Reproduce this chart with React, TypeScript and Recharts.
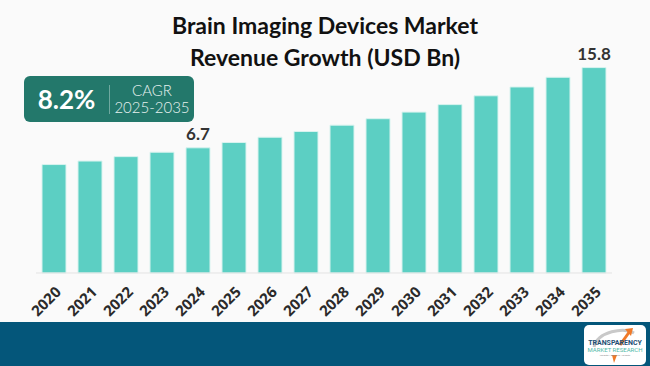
import { BarChart, Bar, XAxis, YAxis, LabelList } from "recharts";

const years = ["2020", "2021", "2022", "2023", "2024", "2025", "2026", "2027", "2028", "2029", "2030", "2031", "2032", "2033", "2034", "2035"];
const revenue = [4.8, 5.2, 5.7, 6.2, 6.7, 7.3, 7.9, 8.55, 9.27, 10.0, 10.75, 11.6, 12.6, 13.6, 14.7, 15.8];
const labelledYears = ["2024", "2035"];
const axisFloor = -7.5;
const axisTop = 17;

const data = years.map((year, i) => ({ year, revenue: revenue[i] }));

const YearTick = ({ x, y, payload }: any) => (
  <text
    x={x + 8}
    y={y + 12}
    transform={`rotate(-45, ${x + 8}, ${y + 12})`}
    textAnchor="end"
    fontSize={15}
    fontWeight={700}
    fill="#2a2a2a"
    fontFamily="'Open Sans', sans-serif"
  >
    {payload.value}
  </text>
);

const ValueLabel = ({ x, y, width, index }: any) => {
  if (!labelledYears.includes(years[index])) return null;
  return (
    <text x={x + width / 2} y={y - 8} textAnchor="middle" fontSize={17} fontWeight={700} fill="#333" fontFamily="Lato, 'Open Sans', sans-serif">
      {revenue[index]}
    </text>
  );
};

function Logo() {
  return (
    <svg width={62} height={40} style={{ position: "absolute", left: 584, top: 325 }}>
      <rect x={0} y={0} width={62} height={40} rx={5} fill="#fff" />
      <path d="M10 22 C 14 6, 40 2, 50 8" stroke="#c9c9c9" strokeWidth={3} fill="none" />
      <path d="M36 20 L 46 6" stroke="#f07a2a" strokeWidth={3} />
      <path d="M41 4 L 49 3 L 47 11 Z" fill="#f07a2a" />
      <path d="M28 30 L 30 38 L 33 30 Z" fill="#f07a2a" />
      <text x={31} y={20} textAnchor="middle" fontSize={7} fontWeight={700} fill="#1d4f73" fontFamily="Roboto, sans-serif">TRANSPARENCY</text>
      <text x={31} y={27} textAnchor="middle" fontSize={6} fill="#4fb9a7" fontFamily="Roboto, sans-serif">MARKET RESEARCH</text>
      <text x={31} y={31} textAnchor="middle" fontSize={2.5} fill="#888" fontFamily="Roboto, sans-serif">Insights • Analysis • Growth</text>
    </svg>
  );
}

export default function App() {
  const font = "Lato, 'Open Sans', sans-serif";
  return (
    <div style={{ position: "absolute", left: 0, top: 0, width: 650, height: 366, background: "#fafafa", overflow: "hidden", fontFamily: font }}>
      <div style={{ position: "absolute", left: 0, top: 322, width: 650, height: 44, background: "#04567a" }} />
      <div style={{ position: "absolute", left: 0, top: 9, width: 650, textAlign: "center", fontSize: 23, fontWeight: 700, color: "#111", lineHeight: "32px" }}>
        Brain Imaging Devices Market
        <br />
        Revenue Growth (USD Bn)
      </div>
      <BarChart width={650} height={366} data={data} margin={{ top: 57, right: 38, left: 36, bottom: 43 }} barCategoryGap={6} style={{ position: "absolute", left: 0, top: 0 }}>
        <YAxis hide domain={[axisFloor, axisTop]} type="number" />
        <XAxis dataKey="year" axisLine={{ stroke: "#e3e3e3" }} tickLine={false} height={50} interval={0} tick={<YearTick />} />
        <Bar dataKey={(d: any) => [axisFloor, d.revenue]} fill="#5ccfc3" stroke="#d8f3ef" strokeWidth={1} isAnimationActive={false}>
          <LabelList content={<ValueLabel />} />
        </Bar>
      </BarChart>
      <div style={{ position: "absolute", left: 24, top: 76, width: 170, height: 46, borderRadius: 6, background: "#23786b", color: "#fff" }}>
        <div style={{ position: "absolute", left: 0, top: 0, width: 85, height: 46, lineHeight: "46px", textAlign: "center", fontSize: 26, fontWeight: 700 }}>8.2%</div>
        <div style={{ position: "absolute", left: 85, top: 9, width: 1, height: 29, background: "#6fa89f" }} />
        <div style={{ position: "absolute", left: 86, top: 6, width: 84, textAlign: "center", fontSize: 15, lineHeight: "17px", fontWeight: 300, color: "#e6f1ef" }}>
          CAGR
          <br />
          2025-2035
        </div>
      </div>
      <Logo />
    </div>
  );
}
